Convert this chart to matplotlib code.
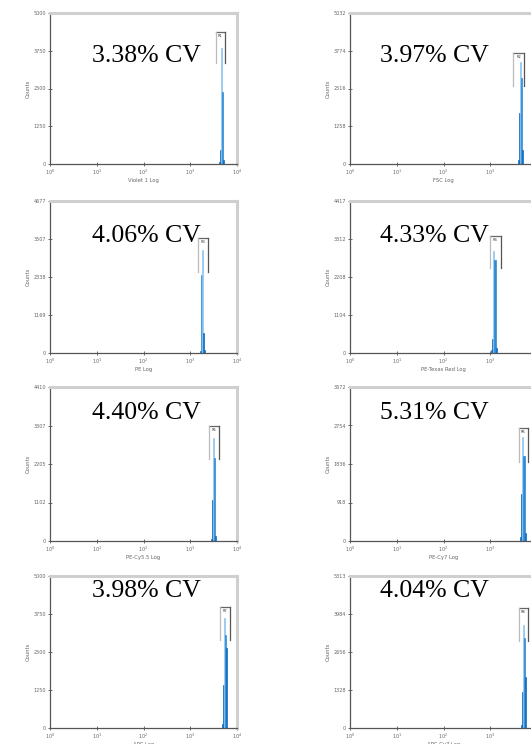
import numpy as np
import matplotlib
matplotlib.use("Agg")
import matplotlib.pyplot as plt

# panel order: row by row, left then right
cv_labels = ["3.38% CV", "3.97% CV", "4.06% CV", "4.33% CV",
             "4.40% CV", "5.31% CV", "3.98% CV", "4.04% CV"]
x_labels = ["Violet 1 Log", "FSC Log", "PE Log", "PE-Texas Red Log",
            "PE-Cy5.5 Log", "PE-Cy7 Log", "APC Log", "APC-Cy7 Log"]
gate_names = ["R1", "R2", "R3", "R4", "R5", "R6", "R7", "R8"]
y_max = [5000, 5032, 4677, 4417, 4410, 3672, 5000, 5313]

# peak position (linear fluorescence) and counts of the 5 bins around it
peak_center = [4570, 4365, 1862, 1202, 3090, 5012, 5495, 5248]
peak_counts = [
    [60, 460, 3840, 2380, 120],
    [120, 1700, 3400, 2860, 470],
    [60, 2400, 3170, 615, 80],
    [90, 400, 2960, 2700, 150],
    [70, 1170, 2950, 2380, 150],
    [100, 1110, 2490, 2030, 200],
    [120, 1410, 3620, 3060, 2630],
    [100, 1260, 3600, 3150, 1780],
]

# gate brackets: low / high fluorescence, top / bottom in counts
gate_lo = [3548, 3090, 1479, 977, 2512, 4074, 4365, 4074]
gate_hi = [5495, 5248, 2399, 1698, 4074, 6457, 7079, 6457]
gate_top = [4370, 3699, 3538, 3400, 3293, 2706, 3980, 4194]
gate_bot = [3344, 2600, 2492, 2470, 2348, 1884, 2895, 3041]

W, H = 531, 744
BIN_STEP = 0.022  # decades per histogram channel

fig = plt.figure(figsize=(W / 100, H / 100), dpi=100)
fig.patch.set_facecolor("white")

col_left = [50, 350]
rows = [(13, 164), (201, 353), (387, 541), (576, 728)]
ax_w = 187

for i in range(8):
    r, c = divmod(i, 2)
    top, bot = rows[r]
    ax = fig.add_axes([col_left[c] / W, 1 - bot / H, ax_w / W, (bot - top) / H])
    ax.set_xscale("log")
    ax.set_xlim(1, 1e4)
    ax.set_ylim(0, y_max[i])

    # histogram channels
    counts = np.array(peak_counts[i])
    k = np.arange(len(counts)) - len(counts) // 2
    lefts = peak_center[i] * 10 ** ((k - 0.5) * BIN_STEP)
    rights = peak_center[i] * 10 ** ((k + 0.5) * BIN_STEP)
    order = np.argsort(counts)[::-1]
    colors = ["#0f6cbf"] * len(counts)
    colors[order[0]] = "#8cc6f0"
    colors[order[1]] = "#2f8ad6"
    ax.bar(lefts, counts, width=rights - lefts, align="edge", color=colors,
           edgecolor=colors, linewidth=0.5)

    # gate bracket
    ax.plot([gate_lo[i], gate_hi[i]], [gate_top[i], gate_top[i]],
            color="#666666", lw=0.9)
    ax.plot([gate_lo[i], gate_lo[i]], [gate_top[i], gate_bot[i]],
            color="#bbbbbb", lw=0.9)
    ax.plot([gate_hi[i], gate_hi[i]], [gate_top[i], gate_bot[i]],
            color="#555555", lw=0.9)
    gx = np.sqrt(gate_lo[i] * gate_hi[i])
    ax.text(gx, gate_top[i] - y_max[i] * 0.015, gate_names[i], fontsize=2.5,
            ha="center", va="top", color="#333333")

    # frame
    for s in ["top", "right"]:
        ax.spines[s].set_color("#cfcfcf")
        ax.spines[s].set_linewidth(2.2)
    for s in ["left", "bottom"]:
        ax.spines[s].set_color("#555555")
        ax.spines[s].set_linewidth(0.9)

    yt = np.linspace(0, y_max[i], 5)
    ax.set_yticks(yt)
    ax.set_yticklabels([str(int(v)) for v in yt])
    ax.set_xticks([1, 10, 100, 1000, 10000])
    ax.set_xticklabels(["$10^{0}$", "$10^{1}$", "$10^{2}$", "$10^{3}$", "$10^{4}$"])
    ax.minorticks_off()
    ax.tick_params(direction="inout", length=3, width=0.6, color="#555555",
                   labelsize=3.5, labelcolor="#666666", pad=1.5)
    ax.set_xlabel(x_labels[i], fontsize=3.8, color="#666666", labelpad=0.5)
    ax.set_ylabel("Counts", fontsize=3.8, color="#666666", labelpad=2)

    # CV annotation
    tx = [92, 380][c]
    ty = [56, 236, 413, 591][r]
    fig.text(tx / W, 1 - ty / H, cv_labels[i], fontsize=18.5,
             family="Liberation Serif", ha="left", va="center", color="black")

fig.savefig("out.png", dpi=100)
